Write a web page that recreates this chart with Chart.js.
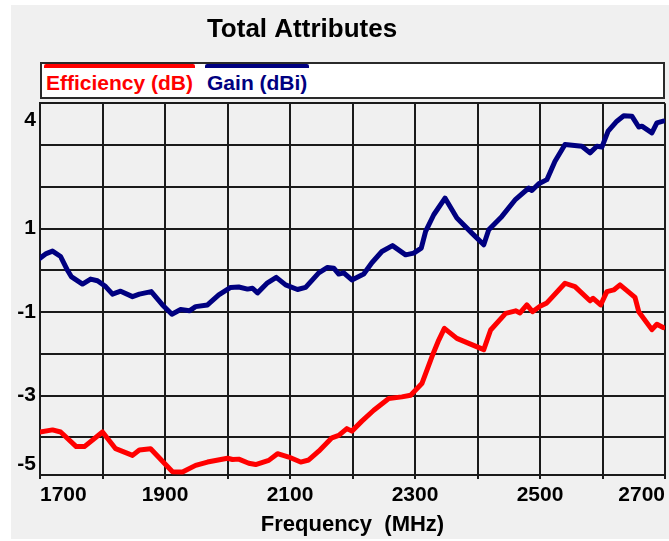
<!DOCTYPE html>
<html>
<head>
<meta charset="utf-8">
<script src="https://cdn.jsdelivr.net/npm/chart.js@4.4.1/dist/chart.umd.min.js"></script>
<style>
  html, body { margin: 0; padding: 0; background: #ffffff; }
  body { width: 669px; height: 541px; position: relative; overflow: hidden; }
  #panel { position: absolute; left: 11px; top: 5px; width: 658px; height: 534px; background: #f0f0f0; }
  #wrap { position: absolute; left: 0; top: 0; width: 669px; height: 541px; }
  #legend {
    position: absolute; left: 40px; top: 62px; width: 621px; height: 33px;
    border: 2px solid #2a2a2a; background: #ffffff; box-sizing: content-box;
    font: bold 21px "Liberation Sans", Arial, sans-serif; white-space: nowrap;
  }
  #legend .item {
    position: relative; display: inline-block; margin-left: 2px; margin-right: 8px;
    border-top: 4px solid; border-radius: 2px; padding: 3px 2px 0 2px; line-height: 24px;
  }
</style>
</head>
<body>
<div id="panel"></div>
<div id="wrap"><canvas id="c" width="669" height="541"></canvas></div>
<div id="legend"></div>
<script>
// ---- data ----
const chartTitle = 'Total Attributes';
const xAxisTitle = 'Frequency  (MHz)';
const seriesNames = ['Efficiency (dB)', 'Gain (dBi)'];
const seriesColors = ['#ff0000', '#000080'];

const effFreq = [1700,1720,1733,1758,1771,1800,1821,1848,1859,1877,1899,1912,1928,1949,1968,2000,2008,2018,2034,2045,2066,2080,2098,2117,2130,2146,2167,2178,2191,2199,2215,2234,2258,2279,2293,2311,2327,2338,2347,2367,2386,2410,2421,2445,2461,2468,2479,2488,2500,2511,2540,2556,2580,2585,2597,2607,2618,2628,2641,2652,2658,2679,2687,2697];
const effValues = [-3.87,-3.82,-3.87,-4.22,-4.22,-3.87,-4.27,-4.43,-4.30,-4.27,-4.62,-4.82,-4.83,-4.67,-4.59,-4.50,-4.53,-4.52,-4.62,-4.65,-4.55,-4.39,-4.47,-4.59,-4.54,-4.33,-4.01,-3.95,-3.79,-3.85,-3.61,-3.35,-3.07,-3.03,-2.99,-2.71,-2.07,-1.67,-1.39,-1.63,-1.75,-1.90,-1.43,-1.03,-0.97,-1.02,-0.83,-0.99,-0.86,-0.78,-0.31,-0.39,-0.73,-0.67,-0.83,-0.51,-0.47,-0.35,-0.51,-0.65,-0.99,-1.42,-1.29,-1.37];

const gainFreq = [1700,1710,1720,1733,1744,1750,1768,1781,1792,1805,1816,1829,1848,1859,1878,1896,1911,1925,1939,1949,1968,1986,2005,2018,2032,2040,2048,2064,2078,2093,2112,2125,2146,2160,2170,2178,2186,2199,2218,2231,2247,2264,2285,2298,2310,2317,2330,2348,2367,2391,2410,2418,2439,2461,2482,2487,2498,2511,2524,2540,2567,2580,2591,2599,2609,2623,2634,2647,2658,2663,2679,2687,2697];
const gainValues = [0.29,0.40,0.46,0.33,0.00,-0.15,-0.33,-0.21,-0.25,-0.39,-0.57,-0.50,-0.63,-0.57,-0.51,-0.83,-1.05,-0.94,-0.97,-0.87,-0.83,-0.59,-0.41,-0.40,-0.45,-0.43,-0.54,-0.30,-0.17,-0.35,-0.46,-0.41,-0.06,0.07,0.05,-0.09,-0.06,-0.23,-0.09,0.18,0.45,0.59,0.37,0.41,0.53,0.93,1.33,1.73,1.25,0.89,0.61,0.97,1.29,1.70,1.97,1.91,2.07,2.17,2.61,3.01,2.97,2.81,2.97,2.95,3.33,3.57,3.70,3.69,3.43,3.45,3.29,3.53,3.57];

// axis ticks
const xMin = 1700, xMax = 2700, xGridStep = 100, xLabelStep = 200;
const yMin = -4.9, yMax = 4;
const yGridValues = [-4, -3, -2, -1, 0, 1, 2, 3, 4];
const yTickLabels = ['4', '1', '-1', '-3', '-5'];
// where each y label text sits on the axis (edge labels are pulled inside as in the reference)
const yTickLabelAt = [3.6, 1, -1, -3, -4.63];

// ---- chart ----
const FONT = '"Liberation Sans", Arial, sans-serif';
const toXY = (xs, ys) => xs.map((x, i) => ({ x: x, y: ys[i] }));
const near = (a, b) => Math.abs(a - b) < 1e-6;

const titleShift = {
  id: 'titleShift',
  afterLayout(chart) {
    const t = chart.titleBlock;
    if (t) { t.left = 0; t.right = 604; }
  }
};

const chart = new Chart(document.getElementById('c'), {
  type: 'line',
  data: {
    datasets: [
      { label: seriesNames[0], data: toXY(effFreq, effValues), borderColor: seriesColors[0], backgroundColor: seriesColors[0] },
      { label: seriesNames[1], data: toXY(gainFreq, gainValues), borderColor: seriesColors[1], backgroundColor: seriesColors[1] }
    ]
  },
  options: {
    responsive: false,
    animation: false,
    elements: {
      line: { borderWidth: 5, tension: 0, borderJoinStyle: 'round', borderCapStyle: 'round' },
      point: { radius: 0, hoverRadius: 0 }
    },
    layout: { padding: { left: 0, right: 3, top: 0, bottom: 0 } },
    plugins: {
      legend: { display: false },
      tooltip: { enabled: false },
      title: {
        display: true,
        text: chartTitle,
        color: '#000000',
        font: { family: FONT, size: 26, weight: 'bold' },
        padding: { top: 14, bottom: 58 }
      }
    },
    scales: {
      x: {
        type: 'linear',
        min: xMin, max: xMax,
        afterFit: (s) => { s.height = 66; },
        ticks: {
          stepSize: xGridStep,
          autoSkip: false,
          maxRotation: 0,
          align: 'inner',
          padding: 4,
          color: '#000000',
          font: { family: FONT, size: 21, weight: 'bold' },
          callback: (v) => ((v - xMin) % xLabelStep === 0 ? String(v) : '')
        },
        grid: { color: '#1a1a1a', lineWidth: 2, drawTicks: true, tickLength: 4, tickColor: '#1a1a1a', tickWidth: 2 },
        border: { display: true, color: '#1a1a1a', width: 2 },
        title: {
          display: true, text: xAxisTitle, color: '#000000',
          font: { family: FONT, size: 22, weight: 'bold' },
          padding: { top: 0, bottom: 3 }
        }
      },
      y: {
        type: 'linear',
        min: yMin, max: yMax,
        afterFit: (s) => { s.width = 40; },
        afterBuildTicks: (s) => {
          const vals = yGridValues.slice();
          yTickLabelAt.forEach(v => { if (!vals.some(g => near(g, v))) vals.push(v); });
          vals.sort((a, b) => a - b);
          s.ticks = vals.map(v => ({ value: v }));
        },
        ticks: {
          autoSkip: false,
          padding: 4,
          color: '#000000',
          font: { family: FONT, size: 21, weight: 'bold' },
          callback: (v) => {
            const i = yTickLabelAt.findIndex(p => near(p, v));
            return i >= 0 ? yTickLabels[i] : '';
          }
        },
        grid: {
          drawTicks: false,
          lineWidth: 2,
          color: (ctx) => (ctx.tick && yGridValues.some(g => near(g, ctx.tick.value)) ? '#1a1a1a' : 'rgba(0,0,0,0)')
        },
        border: { display: true, color: '#1a1a1a', width: 2 }
      }
    }
  },
  plugins: [titleShift]
});

// legend built from the chart's datasets: coloured bar above each label
const legendEl = document.getElementById('legend');
chart.data.datasets.forEach(ds => {
  const item = document.createElement('span');
  item.className = 'item';
  item.textContent = ds.label;
  item.style.color = ds.borderColor;
  item.style.borderTopColor = ds.borderColor;
  legendEl.appendChild(item);
});
</script>
</body>
</html>
